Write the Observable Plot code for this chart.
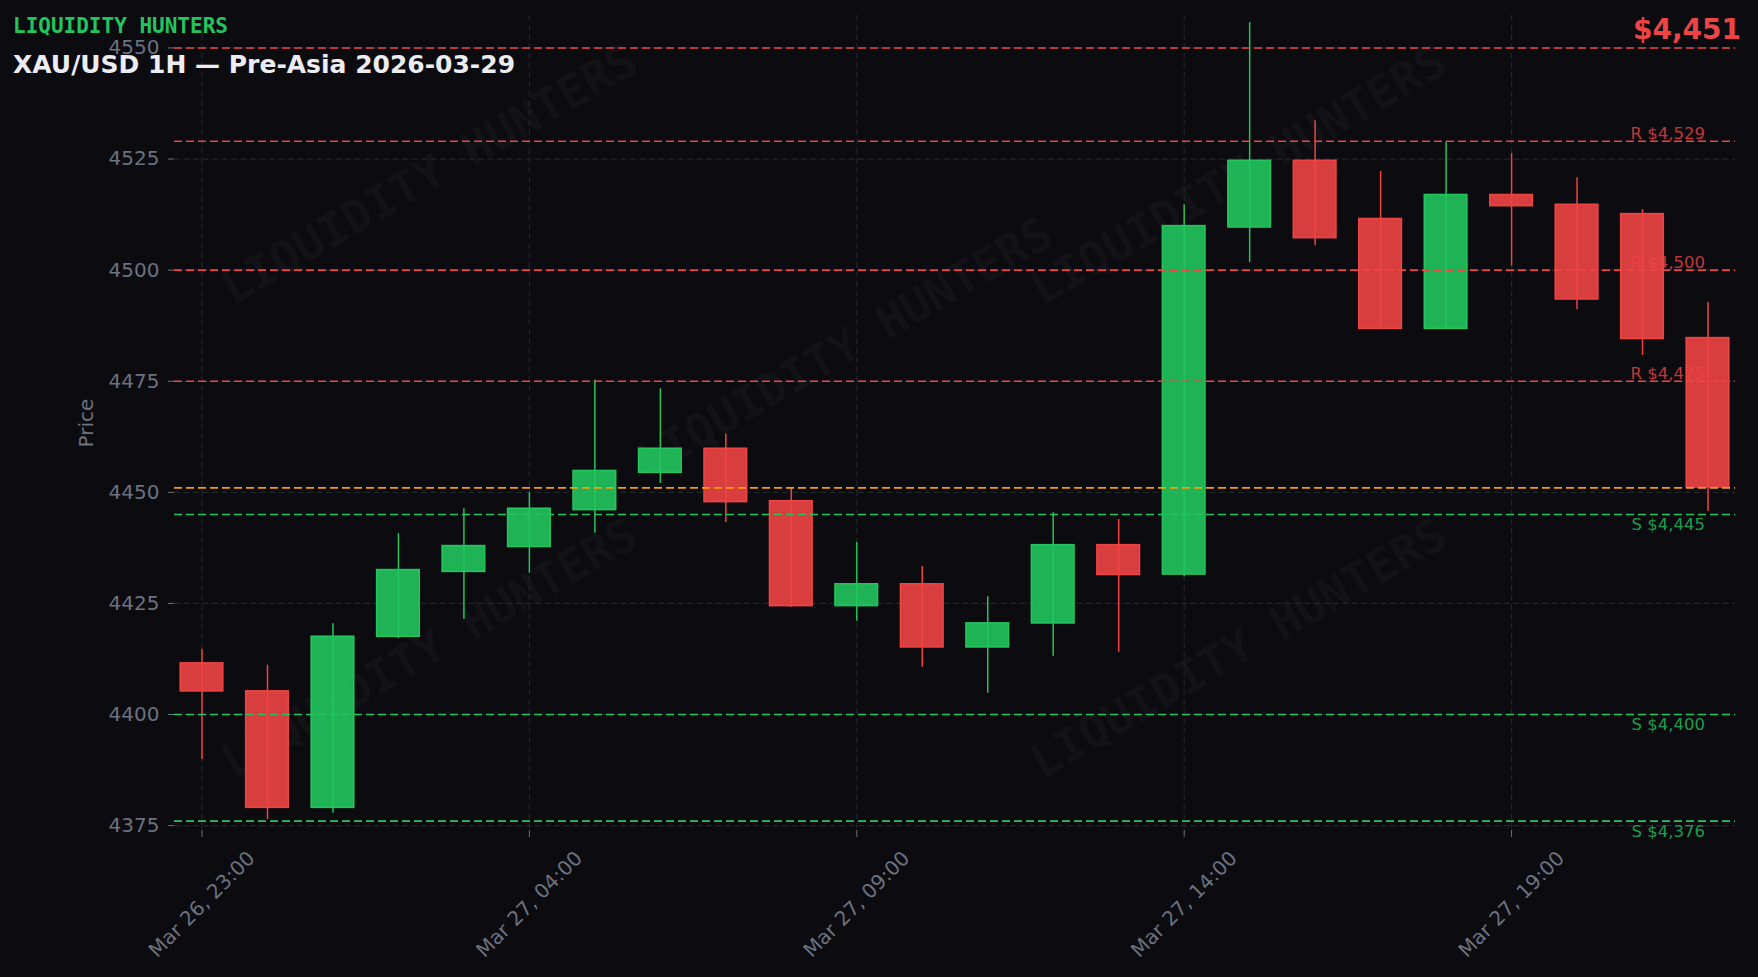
<!DOCTYPE html>
<html>
<head>
<meta charset="utf-8">
<script src="https://cdn.jsdelivr.net/npm/d3@7"></script>
<script src="https://cdn.jsdelivr.net/npm/@observablehq/plot@0.6"></script>
<style>
  html, body { margin: 0; padding: 0; background: #0b0b10; }
  #wrap { position: relative; width: 1758px; height: 977px; overflow: hidden; background: #0b0b10; }
  #wrap > svg, #wrap > figure, #wrap > div { position: absolute; left: 0; top: 0; margin: 0; }
  #bg { z-index: 0; }
  #chart { z-index: 1; }
  #over { z-index: 2; pointer-events: none; }
</style>
</head>
<body>
<div id="wrap">
  <svg id="bg" width="1758" height="977"></svg>
  <div id="chart"></div>
  <svg id="over" width="1758" height="977"></svg>
</div>
<script>
// ---------------- DATA ----------------
const brand = "LIQUIDITY HUNTERS";
const title = "XAU/USD 1H — Pre-Asia 2026-03-29";
const priceLabel = "$4,451";

const times = [
  "2026-03-26T23:00Z", "2026-03-27T00:00Z", "2026-03-27T01:00Z", "2026-03-27T02:00Z",
  "2026-03-27T03:00Z", "2026-03-27T04:00Z", "2026-03-27T05:00Z", "2026-03-27T06:00Z",
  "2026-03-27T07:00Z", "2026-03-27T08:00Z", "2026-03-27T09:00Z", "2026-03-27T10:00Z",
  "2026-03-27T11:00Z", "2026-03-27T12:00Z", "2026-03-27T13:00Z", "2026-03-27T14:00Z",
  "2026-03-27T15:00Z", "2026-03-27T16:00Z", "2026-03-27T17:00Z", "2026-03-27T18:00Z",
  "2026-03-27T19:00Z", "2026-03-27T20:00Z", "2026-03-27T21:00Z", "2026-03-27T22:00Z"
];
const open  = [4411.5, 4405.2, 4379.0, 4417.5, 4432.1, 4437.7, 4446.0, 4454.4, 4459.8, 4448.0, 4424.4, 4429.3,
               4415.1, 4420.5, 4438.1, 4431.5, 4509.6, 4524.6, 4511.5, 4486.8, 4516.9, 4514.7, 4512.6, 4484.7];
const high  = [4414.7, 4411.1, 4420.4, 4440.7, 4446.3, 4449.9, 4475.3, 4473.3, 4463.1, 4451.0, 4438.7, 4433.3,
               4426.5, 4445.4, 4443.9, 4514.7, 4555.7, 4533.6, 4522.2, 4528.8, 4526.2, 4520.8, 4513.6, 4492.7];
const low   = [4389.9, 4376.3, 4377.8, 4417.1, 4421.4, 4431.8, 4440.8, 4452.0, 4443.2, 4424.1, 4421.0, 4410.6,
               4404.8, 4413.1, 4414.0, 4431.0, 4501.7, 4505.5, 4486.8, 4486.8, 4500.9, 4491.1, 4480.8, 4445.7];
const close = [4405.2, 4379.0, 4417.5, 4432.5, 4437.9, 4446.3, 4454.8, 4459.8, 4447.8, 4424.4, 4429.3, 4415.1,
               4420.5, 4438.1, 4431.4, 4509.9, 4524.6, 4507.2, 4486.8, 4516.9, 4514.4, 4493.4, 4484.5, 4451.1];

const levelValues = [4550, 4529, 4500, 4475, 4451, 4445, 4400, 4376];
const levelKinds  = ["R", "R", "R", "R", "P", "S", "S", "S"];
const levelLabels = ["", "R $4,529", "R $4,500", "R $4,475", "", "S $4,445", "S $4,400", "S $4,376"];

const yTicks = [4375, 4400, 4425, 4450, 4475, 4500, 4525, 4550];
const xTicks = ["2026-03-26T23:00Z", "2026-03-27T04:00Z", "2026-03-27T09:00Z", "2026-03-27T14:00Z", "2026-03-27T19:00Z"];
const yLabel = "Price";

// ---------------- BUILD ----------------
const RED = "#ef4444", GREEN = "#22c55e", ORANGE = "#f59e0b", AXIS = "#6b7280", GRID = "#24242e";
const H = 3600 * 1000;
const halfW = 0.325 * H;

const candles = times.map((t, i) => ({
  date: new Date(t), open: open[i], high: high[i], low: low[i], close: close[i],
  up: close[i] >= open[i]
}));
const levels = levelValues.map((v, i) => ({value: v, kind: levelKinds[i], label: levelLabels[i]}));
const levelColor = k => k === "R" ? RED : k === "S" ? GREEN : ORANGE;
const xTickDates = xTicks.map(t => new Date(t));
const first = candles[0].date, last = candles[candles.length - 1].date;

const chart = Plot.plot({
  width: 1758,
  height: 977,
  marginLeft: 174,
  marginRight: 23,
  marginTop: 15,
  marginBottom: 147,
  style: {background: "transparent", color: AXIS, fontFamily: "'DejaVu Sans', sans-serif", fontSize: "20px", overflow: "visible"},
  x: {type: "utc", domain: [new Date(+first - 0.42 * H), new Date(+last + 0.42 * H)]},
  y: {domain: [4373.9, 4557.3]},
  marks: [
    Plot.gridX(xTickDates, {stroke: GRID, strokeOpacity: 1, strokeWidth: 1.2, strokeDasharray: "6,3.5"}),
    Plot.gridY(yTicks, {stroke: GRID, strokeOpacity: 1, strokeWidth: 1.2, strokeDasharray: "6,3.5"}),
    Plot.axisY(yTicks, {
      tickSize: 6, tickPadding: 9, fontSize: 20, stroke: AXIS, fill: AXIS, tickFormat: d => String(d),
      label: yLabel, labelAnchor: "center", labelArrow: "none", labelOffset: 96
    }),
    Plot.axisX(xTickDates, {
      tickSize: 7, tickPadding: 67, fontSize: 20, stroke: AXIS, fill: AXIS,
      tickRotate: -45, textAnchor: "middle", lineAnchor: "middle",
      tickFormat: d3.utcFormat("%b %d, %H:%M"), label: null
    }),
    // wicks
    Plot.ruleX(candles, {x: "date", y1: "low", y2: "high", stroke: d => d.up ? GREEN : RED, strokeWidth: 1.5}),
    // bodies
    Plot.rect(candles, {
      x1: d => new Date(+d.date - halfW), x2: d => new Date(+d.date + halfW),
      y1: d => Math.min(d.open, d.close), y2: d => Math.max(d.open, d.close),
      fill: d => d.up ? GREEN : RED, fillOpacity: 0.9,
      stroke: d => d.up ? GREEN : RED, strokeWidth: 1.6
    }),
    // levels
    Plot.ruleY(levels, {y: "value", stroke: d => levelColor(d.kind), strokeWidth: 1.6, strokeDasharray: "8,4"}),
    Plot.text(levels.filter(d => d.kind === "R" && d.label), {
      x: () => last, y: "value", text: "label", textAnchor: "end", lineAnchor: "bottom",
      dx: -3, dy: -2.5, fill: RED, fillOpacity: 0.8, fontSize: 16.5
    }),
    Plot.text(levels.filter(d => d.kind === "S" && d.label), {
      x: () => last, y: "value", text: "label", textAnchor: "end", lineAnchor: "top",
      dx: -3, dy: 4, fill: GREEN, fillOpacity: 0.8, fontSize: 16.5
    })
  ]
});
document.getElementById("chart").appendChild(chart);

// ---------------- WATERMARKS (background) ----------------
const ns = "http://www.w3.org/2000/svg";
const bg = document.getElementById("bg");
[[429, 174], [844, 347], [1238, 175], [429, 648], [1238, 648]].forEach(([cx, cy]) => {
  const t = document.createElementNS(ns, "text");
  t.setAttribute("transform", `translate(${cx},${cy}) rotate(-30)`);
  t.setAttribute("text-anchor", "middle");
  t.setAttribute("dominant-baseline", "central");
  t.setAttribute("font-family", "'DejaVu Sans Mono', monospace");
  t.setAttribute("font-weight", "bold");
  t.setAttribute("font-size", "46");
  t.setAttribute("fill", "#ffffff");
  t.setAttribute("fill-opacity", "0.045");
  t.textContent = brand;
  bg.appendChild(t);
});

// ---------------- TITLES (overlay) ----------------
const over = document.getElementById("over");
function addText(x, y, txt, attrs) {
  const t = document.createElementNS(ns, "text");
  t.setAttribute("x", x); t.setAttribute("y", y);
  for (const k in attrs) t.setAttribute(k, attrs[k]);
  t.textContent = txt;
  over.appendChild(t);
}
addText(13, 33, brand, {"font-family": "'DejaVu Sans Mono', monospace", "font-weight": "bold", "font-size": "21", fill: GREEN});
addText(13, 73, title, {"font-family": "'DejaVu Sans', sans-serif", "font-weight": "bold", "font-size": "25", fill: "#ececf1"});
addText(1741, 39, priceLabel, {"font-family": "'DejaVu Sans', sans-serif", "font-weight": "bold", "font-size": "28", fill: RED, "text-anchor": "end"});
</script>
</body>
</html>
